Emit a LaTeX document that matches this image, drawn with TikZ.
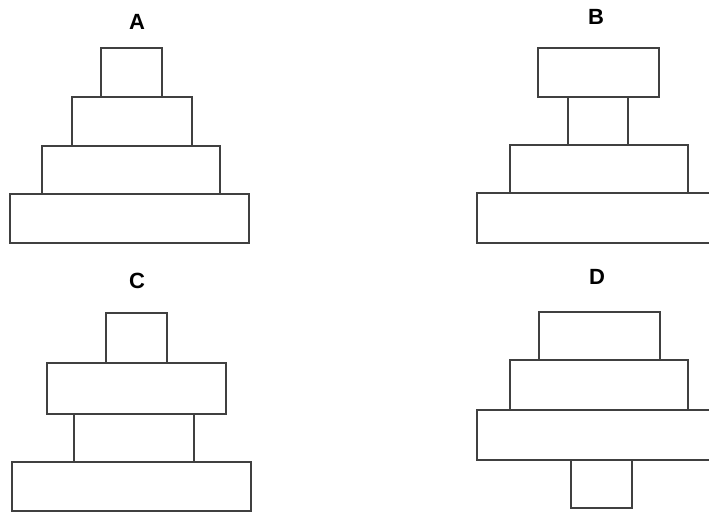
\documentclass[tikz,border=0pt]{standalone}
\usepackage{fontspec}
\setmainfont{Liberation Sans}
\begin{document}
\begin{tikzpicture}[x=1pt,y=-1pt,
  blk/.style={draw=black!75,line width=1.5pt,inner sep=0pt,outer sep=0pt,fill=white},
  lbl/.style={font=\fontsize{22}{24}\selectfont\bfseries,inner sep=0pt}]
\useasboundingbox (0,0) rectangle (709,513);
\clip (0,0) rectangle (709,513);
% A
\node[lbl] (la) at (137,22) {A};
\node[blk,minimum width=61pt,minimum height=49pt] (a1) at (131.5,72.5) {};
\node[blk,minimum width=120pt,minimum height=49pt] (a2) at (132,121.5) {};
\node[blk,minimum width=178pt,minimum height=48pt] (a3) at (131,170) {};
\node[blk,minimum width=239pt,minimum height=49pt] (a4) at (129.5,218.5) {};
% B
\node[lbl] (lb) at (596,17) {B};
\node[blk,minimum width=121pt,minimum height=49pt] (b1) at (598.5,72.5) {};
\node[blk,minimum width=60pt,minimum height=48pt] (b2) at (598,121) {};
\node[blk,minimum width=178pt,minimum height=48pt] (b3) at (599,169) {};
\node[blk,minimum width=239pt,minimum height=50pt] (b4) at (596.5,218) {};
% C
\node[lbl] (lc) at (137,281) {C};
\node[blk,minimum width=61pt,minimum height=50pt] (c1) at (136.5,338) {};
\node[blk,minimum width=179pt,minimum height=51pt] (c2) at (136.5,388.5) {};
\node[blk,minimum width=120pt,minimum height=48pt] (c3) at (134,438) {};
\node[blk,minimum width=239pt,minimum height=49pt] (c4) at (131.5,486.5) {};
% D
\node[lbl] (ld) at (597,277) {D};
\node[blk,minimum width=121pt,minimum height=48pt] (d1) at (599.5,336) {};
\node[blk,minimum width=178pt,minimum height=50pt] (d2) at (599,385) {};
\node[blk,minimum width=239pt,minimum height=50pt] (d3) at (596.5,435) {};
\node[blk,minimum width=61pt,minimum height=48pt] (d4) at (601.5,484) {};
\end{tikzpicture}
\end{document}
